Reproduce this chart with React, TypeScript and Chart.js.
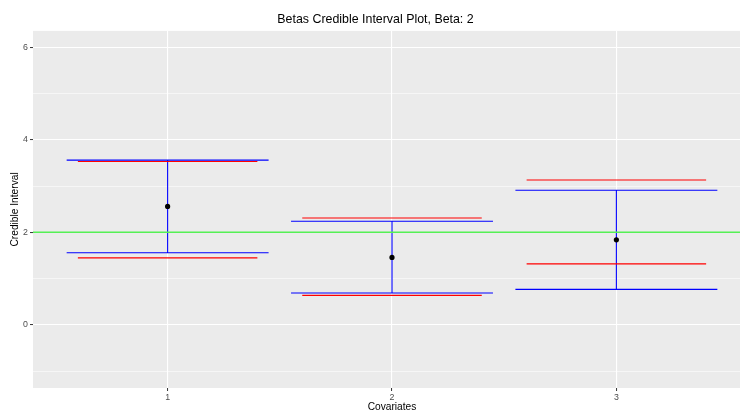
import React, { useEffect, useRef } from "react";
import { Chart, registerables } from "chart.js";

Chart.register(...registerables);

// ---- data ----
const covariates = [1, 2, 3];
const pointEstimates = [2.56, 1.46, 1.84];
const blueLower = [1.56, 0.69, 0.77];
const blueUpper = [3.56, 2.24, 2.91];
const redLower = [1.45, 0.64, 1.32];
const redUpper = [3.53, 2.31, 3.13];
const trueBeta = 2;
const yTicks = [-1, 0, 1, 2, 3, 4, 5, 6];
const xTicks = [1, 2, 3];

const FONT = '"Liberation Sans", Arial, Helvetica, sans-serif';
const X_MIN = 0.4;
const X_MAX = 3.6;

function bracket(lower: number[], upper: number[], half: number, vertical: boolean) {
  const pts: { x: number; y: number | null }[] = [];
  covariates.forEach((c, i) => {
    pts.push({ x: c - half, y: upper[i] }, { x: c + half, y: upper[i] }, { x: c + half, y: null });
    pts.push({ x: c - half, y: lower[i] }, { x: c + half, y: lower[i] }, { x: c + half, y: null });
    if (vertical) pts.push({ x: c, y: lower[i] }, { x: c, y: upper[i] }, { x: c, y: null });
  });
  return pts;
}

const panelBg = {
  id: "panelBg",
  beforeDraw(chart: any) {
    const { ctx, chartArea } = chart;
    ctx.save();
    ctx.fillStyle = "#EBEBEB";
    ctx.fillRect(chartArea.left, chartArea.top, chartArea.right - chartArea.left, chartArea.bottom - chartArea.top);
    ctx.restore();
  },
};

export default function App() {
  const ref = useRef<HTMLCanvasElement | null>(null);
  useEffect(() => {
    document.body.style.margin = "0";
    document.body.style.overflow = "hidden";
    const chart = new Chart(ref.current as HTMLCanvasElement, {
      type: "scatter",
      data: {
        datasets: [
          {
            data: pointEstimates.map((v, i) => ({ x: covariates[i], y: v })),
            pointRadius: 2.6,
            pointBackgroundColor: "#000000",
            pointBorderWidth: 0,
            showLine: false,
            order: 1,
          } as any,
          {
            data: [
              { x: X_MIN, y: trueBeta },
              { x: X_MAX, y: trueBeta },
            ],
            showLine: true,
            borderColor: "#55F055",
            borderWidth: 1.5,
            pointRadius: 0,
            order: 2,
          },
          {
            data: bracket(redLower, redUpper, 0.4, false),
            showLine: true,
            borderColor: "#FF0000",
            borderWidth: 1.1,
            pointRadius: 0,
            spanGaps: false,
            order: 3,
          },
          {
            data: bracket(blueLower, blueUpper, 0.45, true),
            showLine: true,
            borderColor: "#0000FF",
            borderWidth: 1.1,
            pointRadius: 0,
            spanGaps: false,
            order: 4,
          },
        ],
      },
      options: {
        animation: false,
        responsive: false,
        devicePixelRatio: 1,
        layout: { padding: { left: 0, right: 33, top: 0, bottom: 0 } },
        plugins: {
          legend: { display: false },
          tooltip: { enabled: false },
          title: {
            display: true,
            text: "Betas Credible Interval Plot, Beta: 2",
            color: "#000000",
            font: { family: FONT, size: 12.4, weight: "normal", lineHeight: 1.2 },
            padding: { top: 12, bottom: 4 },
          },
        },
        scales: {
          x: {
            type: "linear",
            min: X_MIN,
            max: X_MAX,
            afterBuildTicks: (s: any) => {
              s.ticks = xTicks.map((v) => ({ value: v }));
            },
            afterFit: (s: any) => {
              s.height = 26;
            },
            border: { display: false },
            grid: {
              color: "#FFFFFF",
              lineWidth: 1.1,
              drawTicks: true,
              tickLength: 3,
              tickColor: "#333333",
              tickWidth: 1,
            },
            ticks: {
              color: "#4D4D4D",
              font: { family: FONT, size: 8.8 },
              padding: 1,
              maxRotation: 0,
              autoSkip: false,
              callback: (v: any) => String(v),
            },
            title: {
              display: true,
              text: "Covariates",
              color: "#000000",
              font: { family: FONT, size: 10.2 },
              padding: { top: 0, bottom: 0.5 },
            },
          },
          y: {
            type: "linear",
            min: -1.36,
            max: 6.35,
            afterBuildTicks: (s: any) => {
              s.ticks = yTicks.map((v) => ({ value: v }));
            },
            afterFit: (s: any) => {
              s.width = 33;
            },
            border: { display: false },
            grid: {
              color: "#FFFFFF",
              lineWidth: (c: any) => (c.tick && c.tick.value % 2 === 0 ? 1.1 : 0.55),
              drawTicks: true,
              tickLength: 3,
              tickColor: (c: any) => (c.tick && c.tick.value % 2 === 0 ? "#333333" : "rgba(0,0,0,0)"),
              tickWidth: 1,
            },
            ticks: {
              color: "#4D4D4D",
              font: { family: FONT, size: 8.8 },
              padding: 2,
              autoSkip: false,
              callback: (v: any) => (Number(v) % 2 === 0 ? String(v) : ""),
            },
            title: {
              display: true,
              text: "Credible Interval",
              color: "#000000",
              font: { family: FONT, size: 10.2 },
              padding: { top: 9, bottom: 0 },
            },
          },
        },
      } as any,
      plugins: [panelBg],
    });
    return () => chart.destroy();
  }, []);
  return (
    <div style={{ width: 740, height: 414, overflow: "hidden", background: "#FFFFFF" }}>
      <canvas ref={ref} width={784} height={414} style={{ width: 784, height: 414, display: "block" }} />
    </div>
  );
}
